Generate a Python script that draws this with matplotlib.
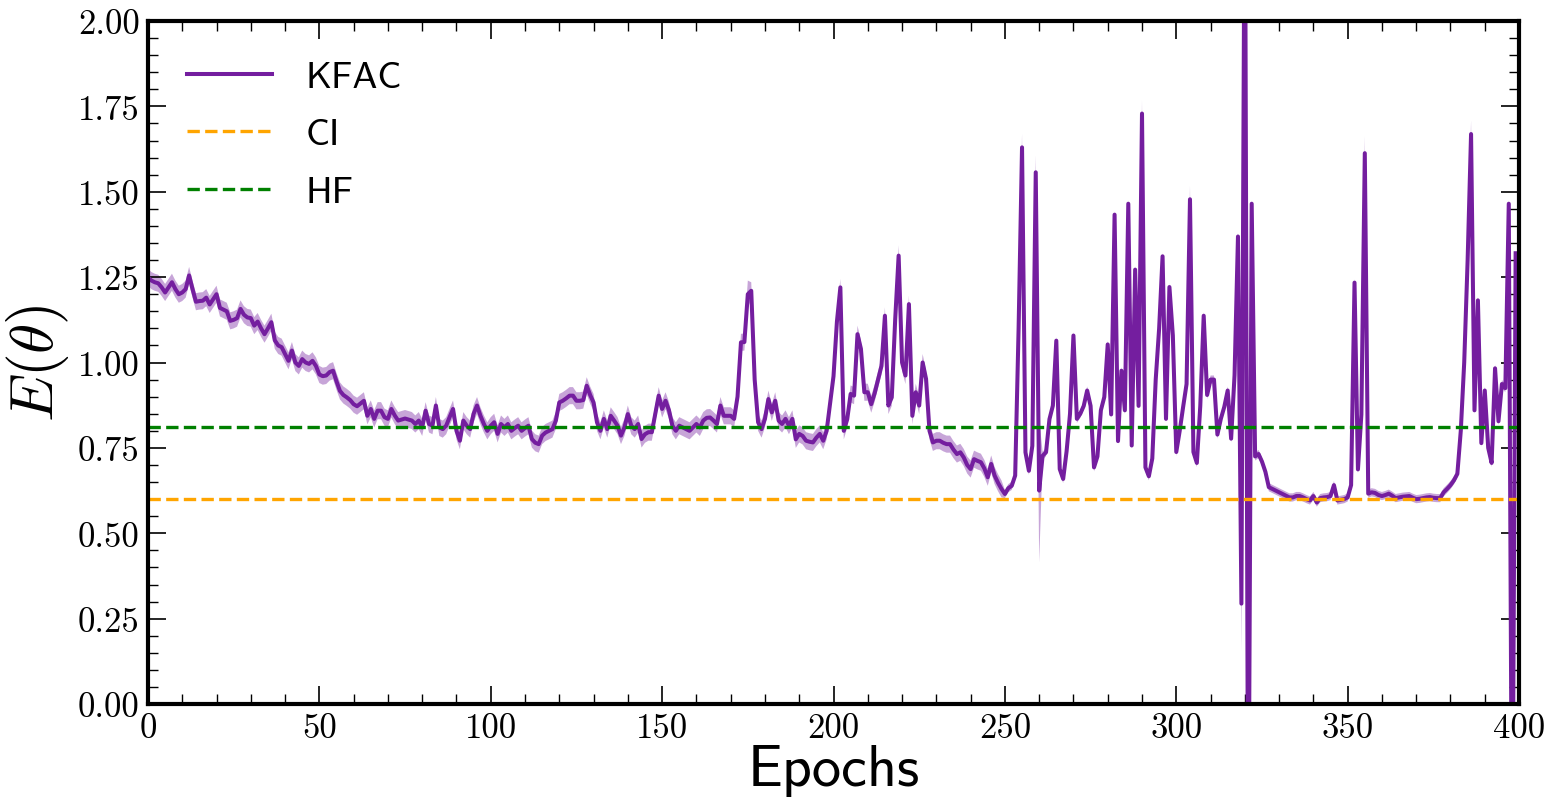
import numpy as np
import matplotlib
matplotlib.use("Agg")
import matplotlib.pyplot as plt
from matplotlib.ticker import MultipleLocator

# Energy per epoch for the KFAC optimiser (epochs 0..399)
kfac_energy = [
    1.25, 1.24, 1.235, 1.232, 1.22, 1.205, 1.22, 1.235, 1.215, 1.20,
    1.205, 1.215, 1.255, 1.215, 1.178, 1.18, 1.181, 1.19, 1.17, 1.185,
    1.20, 1.16, 1.155, 1.15, 1.122, 1.125, 1.13, 1.157, 1.14, 1.132,
    1.13, 1.108, 1.12, 1.10, 1.083, 1.10, 1.118, 1.065, 1.05, 1.045,
    1.025, 1.005, 1.035, 1.00, 0.99, 1.01, 1.00, 0.996, 1.005, 0.99,
    0.965, 0.96, 0.962, 0.972, 0.976, 0.945, 0.917, 0.905, 0.898, 0.89,
    0.878, 0.872, 0.88, 0.888, 0.844, 0.864, 0.835, 0.859, 0.859, 0.84,
    0.835, 0.864, 0.845, 0.83, 0.833, 0.836, 0.833, 0.83, 0.82, 0.83,
    0.81, 0.859, 0.82, 0.815, 0.874, 0.81, 0.805, 0.815, 0.84, 0.864,
    0.80, 0.771, 0.83, 0.815, 0.805, 0.85, 0.874, 0.844, 0.82, 0.80,
    0.815, 0.825, 0.791, 0.82, 0.81, 0.82, 0.80, 0.808, 0.815, 0.80,
    0.808, 0.815, 0.776, 0.765, 0.761, 0.786, 0.795, 0.80, 0.805, 0.83,
    0.883, 0.888, 0.895, 0.903, 0.903, 0.888, 0.888, 0.89, 0.932, 0.905,
    0.883, 0.825, 0.80, 0.835, 0.805, 0.844, 0.83, 0.815, 0.786, 0.81,
    0.849, 0.815, 0.805, 0.82, 0.776, 0.79, 0.796, 0.796, 0.85, 0.903,
    0.864, 0.888, 0.86, 0.815, 0.80, 0.815, 0.81, 0.805, 0.80, 0.81,
    0.82, 0.81, 0.83, 0.838, 0.839, 0.83, 0.82, 0.874, 0.844, 0.844,
    0.844, 0.835, 0.90, 1.059, 1.06, 1.20, 1.21, 0.95, 0.825, 0.805,
    0.835, 0.893, 0.854, 0.888, 0.83, 0.82, 0.835, 0.815, 0.835, 0.775,
    0.791, 0.785, 0.771, 0.768, 0.766, 0.78, 0.791, 0.771, 0.80, 0.88,
    0.96, 1.12, 1.22, 0.80, 0.834, 0.908, 0.903, 1.083, 1.04, 0.913,
    0.913, 0.878, 0.91, 0.95, 0.99, 1.137, 0.874, 0.898, 1.127, 1.313,
    1.00, 0.962, 1.171, 0.844, 0.913, 0.874, 1.00, 0.952, 0.80, 0.766,
    0.771, 0.771, 0.765, 0.761, 0.761, 0.745, 0.732, 0.737, 0.722, 0.70,
    0.688, 0.717, 0.712, 0.708, 0.69, 0.664, 0.703, 0.669, 0.648, 0.63,
    0.615, 0.632, 0.639, 0.669, 1.10, 1.63, 0.737, 0.683, 0.756, 1.557,
    0.625, 0.727, 0.737, 0.834, 0.874, 1.064, 0.688, 0.659, 0.74, 0.85,
    1.079, 0.835, 0.85, 0.873, 0.918, 0.873, 0.693, 0.725, 0.86, 0.899,
    1.053, 0.848, 1.433, 0.770, 0.976, 0.860, 1.465, 0.757, 1.272, 0.873,
    1.729, 0.693, 0.667, 0.719, 0.95, 1.10, 1.311, 0.835, 1.221, 1.079,
    0.738, 0.80, 0.87, 0.937, 1.478, 0.738, 0.706, 0.873, 1.137, 0.905,
    0.950, 0.950, 0.789, 0.835, 0.87, 0.918, 0.777, 0.963, 1.369, 0.294,
    2.60, -0.60, 1.465, 0.725, 0.732, 0.71, 0.68, 0.635, 0.63, 0.625,
    0.62, 0.615, 0.61, 0.605, 0.605, 0.609, 0.609, 0.605, 0.600, 0.596,
    0.609, 0.590, 0.603, 0.605, 0.606, 0.609, 0.641, 0.596, 0.598, 0.600,
    0.605, 0.641, 1.234, 0.687, 0.848, 1.613, 0.616, 0.62, 0.618, 0.612,
    0.609, 0.612, 0.616, 0.610, 0.603, 0.605, 0.607, 0.608, 0.609, 0.604,
    0.600, 0.601, 0.603, 0.605, 0.606, 0.604, 0.603, 0.603, 0.62, 0.63,
    0.641, 0.655, 0.674, 0.80, 1.00, 1.30, 1.669, 0.860, 1.182, 0.764,
    0.918, 0.75, 0.706, 0.983, 0.828, 0.937, 0.925, 1.465, -0.60, 1.32,
]
epochs = np.arange(len(kfac_energy))

# Spread across runs: typical half-width, plus wider spread at a few epochs
spread_early = 0.025
spread_late = 0.012
spread_extra = {175: 0.04, 219: 0.03, 255: 0.04, 259: 0.05, 260: 0.21,
                290: 0.04, 304: 0.04, 319: 0.14, 355: 0.05, 386: 0.04}

ci_energy = 0.60
hf_energy = 0.811

legend_labels = ["KFAC", "CI", "HF"]
x_label = "Epochs"
y_label = r"$E(\theta)$"

plt.rcParams["mathtext.fontset"] = "cm"
plt.rcParams["axes.unicode_minus"] = False

fig = plt.figure(figsize=(15.51, 8.03), dpi=100)
ax = fig.add_axes([0.0954, 0.122, 0.8840, 0.8506])

y = np.array(kfac_energy)
half = np.where(epochs < 250, spread_early, spread_late)
for e, s in spread_extra.items():
    half[e] = s

purple = "#741e9f"
ax.fill_between(epochs, y - half, y + half, color=purple, alpha=0.4, lw=0)
ax.plot(epochs, y, color=purple, lw=2.9, label=legend_labels[0])
ax.axhline(ci_energy, color="orange", ls="--", lw=2.4, label=legend_labels[1])
ax.axhline(hf_energy, color="green", ls="--", lw=2.4, label=legend_labels[2])

ax.set_xlim(0, 400)
ax.set_ylim(0, 2)
ax.xaxis.set_major_locator(MultipleLocator(50))
ax.xaxis.set_minor_locator(MultipleLocator(10))
ax.yaxis.set_major_locator(MultipleLocator(0.25))
ax.yaxis.set_minor_locator(MultipleLocator(0.05))
ax.yaxis.set_major_formatter(matplotlib.ticker.FormatStrFormatter("%.2f"))

ax.tick_params(which="both", direction="in", top=True, right=True)
ax.tick_params(which="major", length=13, width=1.2, pad=6)
ax.tick_params(which="minor", length=7, width=1.0)
for lab in ax.get_xticklabels() + ax.get_yticklabels():
    lab.set_fontfamily("cmr10")
    lab.set_fontsize(25)

for sp in ax.spines.values():
    sp.set_linewidth(3)

ax.set_xlabel(x_label, fontfamily="cmss10", fontsize=42, labelpad=0)
ax.set_ylabel(y_label, fontsize=44, labelpad=5)

leg = ax.legend(loc="upper left", frameon=False, handlelength=2.25,
                prop={"family": "cmss10", "size": 27},
                borderaxespad=0.65, labelspacing=0.65, handletextpad=0.9)

fig.savefig("out.png", dpi=100)
